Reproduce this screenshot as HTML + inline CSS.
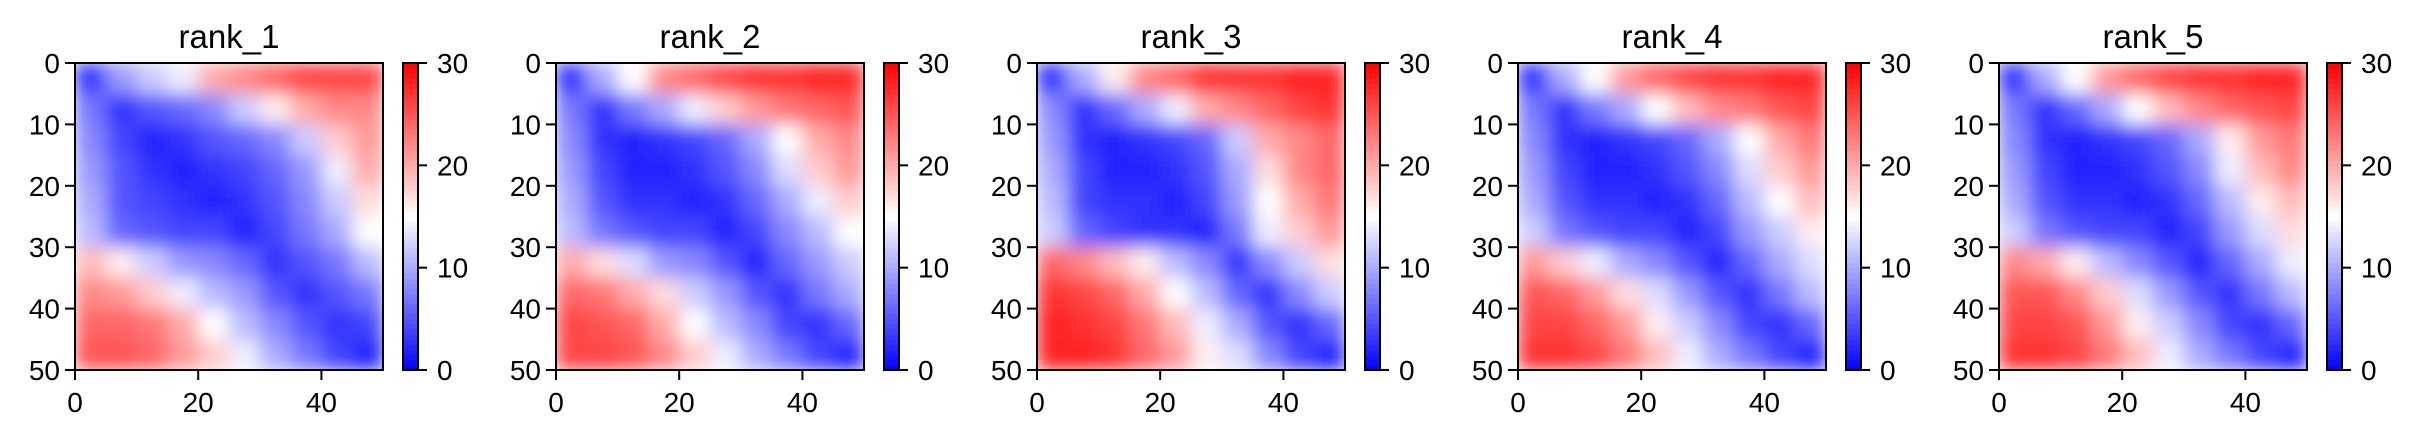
<!DOCTYPE html>
<html><head><meta charset="utf-8">
<style>
html,body{margin:0;padding:0;background:#fff;}
svg{display:block;font-family:"Liberation Sans","DejaVu Sans",sans-serif;}
</style></head>
<body>
<svg id="fig" width="2417" height="438" viewBox="0 0 2417 438" xmlns="http://www.w3.org/2000/svg">
<defs><filter id="smooth" x="0" y="0" width="1" height="1" filterUnits="objectBoundingBox"><feGaussianBlur stdDeviation="9" edgeMode="duplicate"/></filter></defs>
</svg>
<script>
const panelTitles = ["rank_1","rank_2","rank_3","rank_4","rank_5"];
const axisTicks = [0,10,20,30,40,50];
const xAxisTicks = [0,20,40];
const colorbarTicks = [0,10,20,30];
// coarse 10x10 block values (each block = 5x5 residues), rows = y
const rank1 = [
[3,9,12,14,20,22,24,26,26,26],
[7,3,5,6,8,12,16,20,22,22],
[8,4,2,3,5,6,8,12,18,21],
[9,5,3,2,3,4,6,9,14,20],
[10,5,4,3,2,3,5,8,12,17],
[11,6,5,4,4,2,4,7,10,15],
[19,16,12,9,8,6,3,5,7,11],
[22,21,18,14,11,9,5,3,5,7],
[24,24,23,20,15,11,8,5,3,4],
[25,25,24,21,18,14,10,7,4,2]];
const rank2 = [
[3,10,15,22,24,26,27,27,28,28],
[7,3,7,10,14,18,21,23,24,25],
[8,3,2,3,4,6,10,15,20,22],
[9,4,2,2,3,5,8,13,18,21],
[10,5,3,3,2,3,6,10,14,18],
[11,7,5,4,4,2,4,8,11,15],
[20,17,13,9,8,5,2,6,9,12],
[24,23,20,17,12,9,5,3,7,10],
[26,25,24,20,15,11,8,4,3,6],
[26,26,25,22,18,14,10,7,4,2]];
const rank3 = [
[3,10,16,22,24,27,27,27,28,28],
[8,3,6,10,14,20,22,24,26,27],
[9,3,2,3,4,6,12,20,22,24],
[10,4,2,2,3,5,10,17,22,24],
[11,4,3,3,2,4,9,15,20,23],
[12,6,4,3,3,2,7,14,18,21],
[24,22,19,16,11,8,3,8,12,17],
[27,26,24,20,15,11,6,3,8,12],
[28,27,26,23,19,14,10,5,3,6],
[28,28,27,24,21,16,13,8,4,2]];
const rank4 = [
[3,10,15,21,24,26,27,27,28,28],
[7,3,7,10,15,19,22,23,25,26],
[8,3,2,3,4,6,10,15,20,23],
[9,4,2,2,3,5,8,13,18,21],
[10,5,3,3,2,3,6,11,15,19],
[12,7,5,4,4,2,4,9,12,16],
[21,18,14,10,8,5,2,6,10,13],
[25,24,21,17,13,9,5,3,7,11],
[26,26,24,21,16,12,8,4,3,6],
[27,27,26,23,19,14,10,7,4,2]];
const rank5 = [
[3,10,15,21,24,26,27,27,28,28],
[7,3,6,10,15,19,22,24,25,26],
[8,3,2,3,4,6,10,16,21,23],
[9,4,2,2,3,5,8,14,19,22],
[10,5,3,3,2,3,6,11,16,19],
[12,7,5,4,4,2,4,9,13,17],
[22,20,16,11,8,5,2,6,10,14],
[25,25,22,18,13,9,5,3,7,11],
[26,26,25,21,16,12,8,4,3,6],
[27,27,26,23,19,14,10,7,4,2]];
const matrices = [rank1,rank2,rank3,rank4,rank5];

const NS="http://www.w3.org/2000/svg";
const svg=document.getElementById('fig');
function mk(tag,attrs,parent){const e=document.createElementNS(NS,tag);for(const k in attrs)e.setAttribute(k,attrs[k]);(parent||svg).appendChild(e);return e;}
function bwr(v){v=Math.max(0,Math.min(30,v));let r,g,b;
 if(v<15){r=g=Math.round(255*v/15);b=255;}else{r=255;g=b=Math.round(255*(30-v)/15);}
 return `rgb(${r},${g},${b})`;}
const AX_W=308, AX_H=307, TOP=63, BOT=370, STEP=481, LEFT0=75;
const xScale=(v,left)=>left+v/50*AX_W;
const yScale=v=>TOP+v/50*AX_H;
const cbY=v=>BOT-v/30*AX_H;

matrices.forEach((m,p)=>{
 const left=LEFT0+p*STEP;
 const g=mk('g',{});
 
 
 const t=mk('text',{x:left+AX_W/2,y:48,'font-size':33,'text-anchor':'middle',fill:'#000'},g);
 t.textContent=panelTitles[p];
 
 
 const cells=mk('g',{filter:'url(#smooth)'},g);
 
 
 const n=m.length, span=50/n;
 m.forEach((row,i)=>row.forEach((v,j)=>{
  const x0=xScale(j*span,left), x1=xScale((j+1)*span,left);
  const y0=yScale(i*span), y1=yScale((i+1)*span);
  const c=mk('rect',{x:x0,y:y0,width:x1-x0+0.5,height:y1-y0+0.5,fill:bwr(v)},cells);
  
  
 }));
 const fr=mk('rect',{x:left,y:TOP,width:AX_W,height:AX_H,fill:'none',stroke:'#000','stroke-width':2},g);
 
 
 axisTicks.forEach(v=>{
  const y=yScale(v);
  mk('line',{x1:left-10,x2:left,y1:y,y2:y,stroke:'#000','stroke-width':2},g);
  const l=mk('text',{x:left-15,y:y+10,'font-size':28,'text-anchor':'end',fill:'#000'},g);
  l.textContent=v;
  
  
 });
 xAxisTicks.forEach(v=>{
  const x=xScale(v,left);
  mk('line',{x1:x,x2:x,y1:BOT,y2:BOT+10,stroke:'#000','stroke-width':2},g);
  const l=mk('text',{x:x,y:412,'font-size':28,'text-anchor':'middle',fill:'#000'},g);
  l.textContent=v;
  
  
 });
 const cbL=left+328, cbW=15;
 const steps=60;
 for(let k=0;k<steps;k++){
  const v0=k*30/steps, v1=(k+1)*30/steps;
  mk('rect',{x:cbL,y:cbY(v1),width:cbW,height:cbY(v0)-cbY(v1)+0.5,fill:bwr((v0+v1)/2)},g);
 }
 const cf=mk('rect',{x:cbL,y:TOP,width:cbW,height:AX_H,fill:'none',stroke:'#000','stroke-width':2},g);
 
 
 colorbarTicks.forEach(v=>{
  const y=cbY(v);
  mk('line',{x1:cbL+cbW,x2:cbL+cbW+9,y1:y,y2:y,stroke:'#000','stroke-width':2},g);
  const l=mk('text',{x:cbL+cbW+19,y:y+10,'font-size':28,fill:'#000'},g);
  l.textContent=v;
  
  
 });
});
</script>
</body></html>
